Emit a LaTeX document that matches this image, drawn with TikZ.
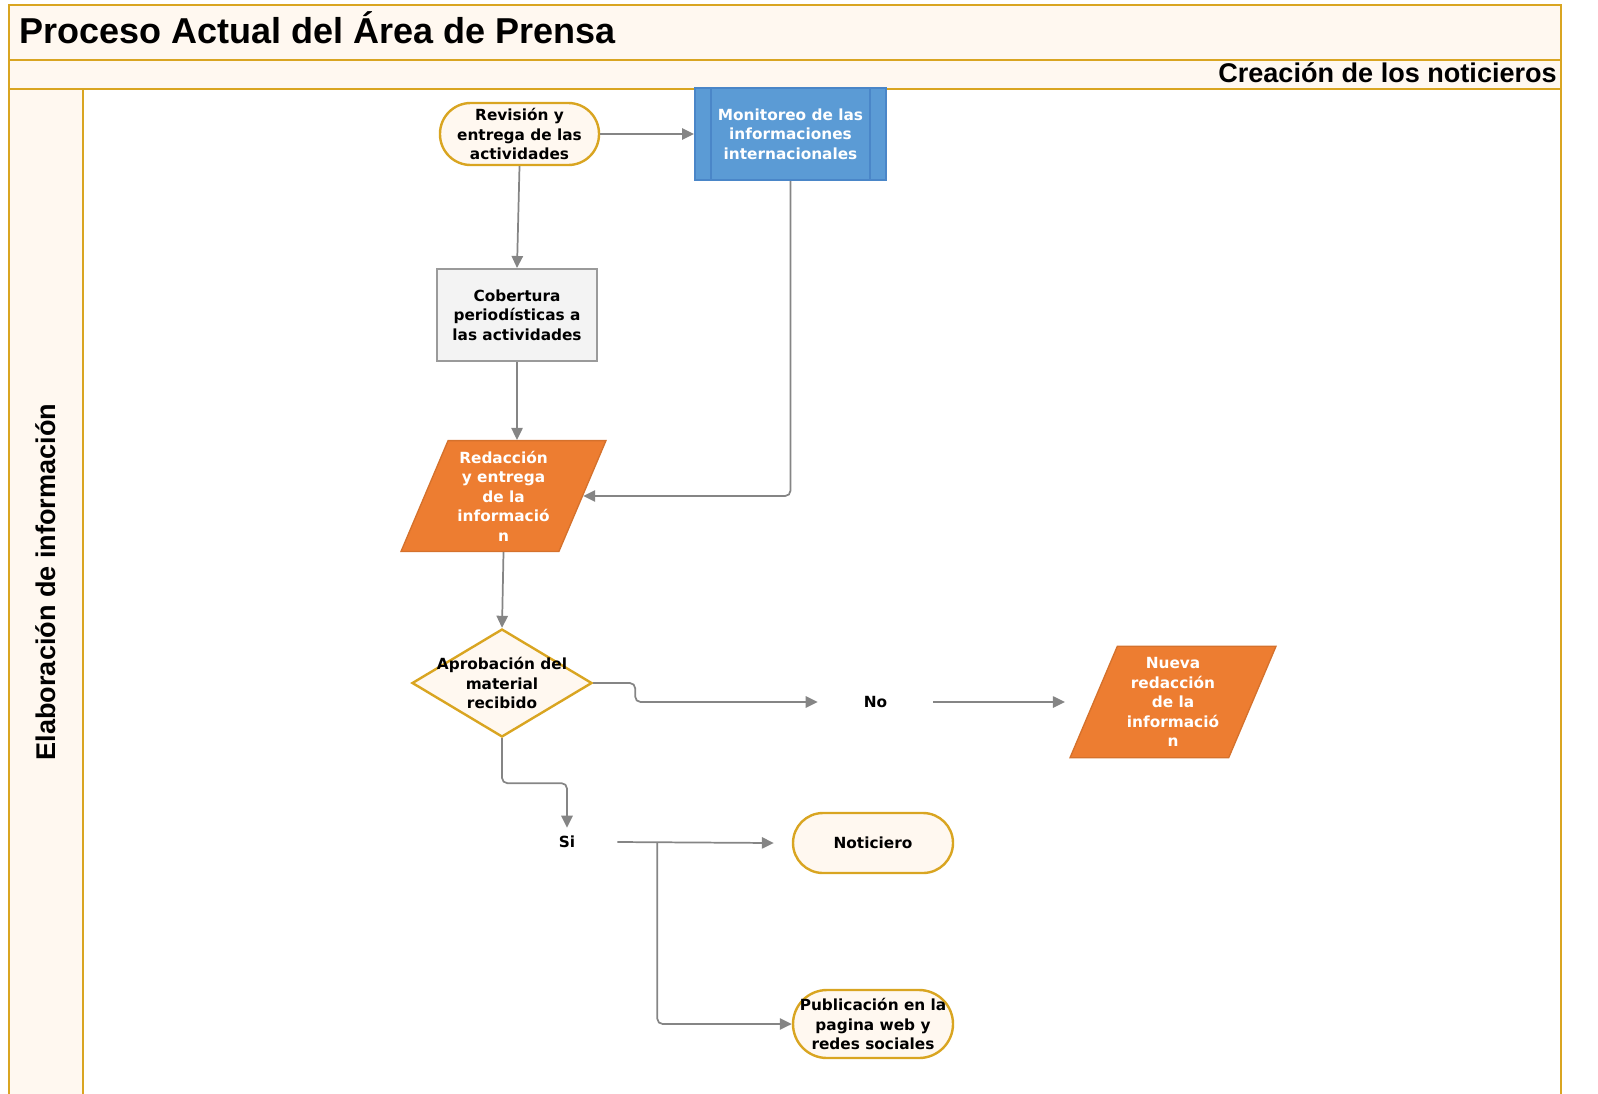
\documentclass[tikz,border=0pt]{standalone}
\usepackage{fontspec}
\setmainfont{Liberation Sans}
\newfontfamily\nodefam{DejaVu Sans}
\usetikzlibrary{shapes.geometric,arrows.meta}
\definecolor{cream}{HTML}{FFF8F0}
\definecolor{gold}{HTML}{D9A521}
\definecolor{linegray}{HTML}{858585}
\definecolor{bluefill}{HTML}{5B9BD5}
\definecolor{blueline}{HTML}{4A86C8}
\definecolor{orangefill}{HTML}{ED7D31}
\definecolor{grayfill}{HTML}{F3F3F3}
\definecolor{grayline}{HTML}{9A9A9A}
\newcommand{\nodefnt}{\nodefam\bfseries\fontsize{11.5}{14.6}\selectfont}
\tikzset{
  conn/.style={draw=linegray, line width=1.3pt, -{Triangle[length=9pt,width=8.5pt]}, rounded corners=4pt},
  stadium/.style={draw=gold, fill=cream, line width=1.8pt, rounded corners=#1, inner sep=0pt, align=center, font=\nodefnt},
  bluebox/.style={draw=blueline, fill=bluefill, line width=1.5pt, inner sep=0pt, align=center, text=white, font=\nodefnt},
  graybox/.style={draw=grayline, fill=grayfill, line width=1.5pt, inner sep=0pt, align=center, font=\nodefnt},
  para/.style={trapezium, trapezium left angle=67, trapezium right angle=113, draw=orangefill!90!black, fill=orangefill, line width=1pt, inner sep=3pt},
  paratext/.style={inner sep=0pt, align=center, text=white, font=\nodefnt},
  decision/.style={diamond, draw=gold, fill=cream, line width=1.8pt, inner sep=3pt},
  plaintext/.style={inner sep=0pt, align=center, font=\nodefnt},
  frame/.style={draw=gold, line width=2.2pt},
}
\begin{document}
\begin{tikzpicture}[x=0.75pt,y=-0.75pt]
\useasboundingbox (0,0) rectangle (1598,1093);
\clip (0,0) rectangle (1598,1093);
% frame
\fill[cream] (9,5) rectangle (1561,89);
\fill[cream] (9,89) rectangle (83,1110);
\draw[frame] (9,1110) -- (9,5) -- (1561,5) -- (1561,1110);
\draw[frame] (9,60) -- (1561,60);
\draw[frame] (9,89) -- (1561,89);
\draw[frame] (83,89) -- (83,1110);
\node[anchor=base west, inner sep=0pt, font=\bfseries\fontsize{27}{30}\selectfont] (title) at (19,43) {Proceso Actual del Área de Prensa};
\node[anchor=base east, inner sep=0pt, font=\bfseries\fontsize{20.3}{22}\selectfont] (sub) at (1557,82) {Creación de los noticieros};
\node[rotate=90, inner sep=0pt, font=\bfseries\fontsize{20.3}{22}\selectfont] (lane) at (46,582) {Elaboración de información};
% nodes
\node[stadium=23pt, minimum width=119.25pt, minimum height=46.5pt] (rev) at (519.5,134) {Revisión y\\entrega de las\\actividades};
\node[bluebox, minimum width=143.25pt, minimum height=69pt] (mon) at (790.5,134) {Monitoreo de las\\informaciones\\internacionales};
\draw[draw=blueline, line width=1.5pt] ([xshift=12.75pt]mon.north west) -- ([xshift=12.75pt]mon.south west);
\draw[draw=blueline, line width=1.5pt] ([xshift=-12.75pt]mon.north east) -- ([xshift=-12.75pt]mon.south east);
\node[graybox, minimum width=120pt, minimum height=69pt] (cob) at (517,315) {Cobertura\\periodísticas a\\las actividades};
\node[para, minimum width=153.75pt, minimum height=67.5pt] (red) at (503.5,496) {};
\node[paratext] (redt) at (red.center) {Redacción\\y entrega\\de la\\informació\\n};
\node[decision, minimum width=135pt, minimum height=81pt] (dia) at (502,683) {};
\node[plaintext] (diat) at (dia.center) {Aprobación del\\material\\recibido};
\node[plaintext, minimum width=86.25pt, minimum height=18pt] (no) at (875.5,702) {No};
\node[para, minimum width=154.5pt, minimum height=67.5pt] (nue) at (1173,702) {};
\node[paratext] (nuet) at (nue.center) {Nueva\\redacción\\de la\\informació\\n};
\node[plaintext, minimum width=75pt, minimum height=21pt] (si) at (567,842) {Si};
\node[stadium=22.5pt, minimum width=120pt, minimum height=45pt] (not) at (873,843) {Noticiero};
\node[stadium=25.5pt, minimum width=120pt, minimum height=51pt] (pub) at (873,1024) {Publicación en la\\pagina web y\\redes sociales};
% connectors
\draw[conn] (rev.east) -- (mon.west);
\draw[conn] (rev.south) -- (cob.north);
\draw[conn] (cob.south) -- (cob.south |- red.north);
\draw[conn] (mon.south) |- (red.east);
\draw[conn] (red.south) -- (dia.north);
\draw[conn] (dia.east) -- ++(42,0) |- (no.west);
\draw[conn] (no.east) -- ([xshift=-21pt]nue.west);
\draw[conn] (dia.south) -- ++(0,45) -| (si.north);
\draw[conn] (si.east) -- ([xshift=-13.5pt]not.west);
\draw[conn] ([xshift=30pt]si.east) |- (pub.west);
\end{tikzpicture}
\end{document}
